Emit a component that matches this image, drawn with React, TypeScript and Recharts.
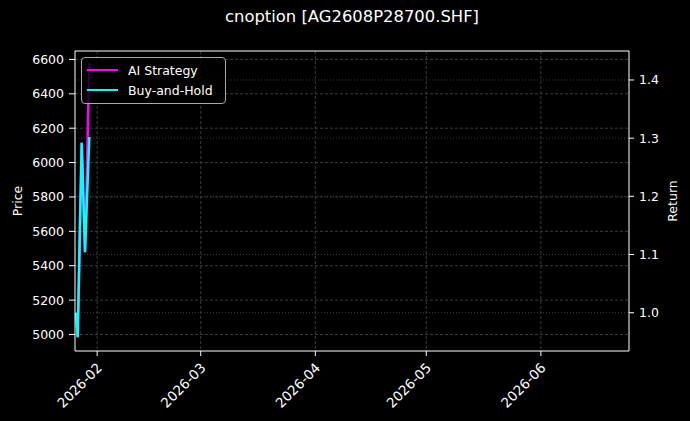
import React from "react";
import {
  LineChart,
  Line,
  XAxis,
  YAxis,
  CartesianGrid,
  Legend,
  ReferenceLine,
} from "recharts";

// timestamps of the few bars we have (UTC)
const times = [
  "2026-01-26T08:00:00Z",
  "2026-01-26T17:30:00Z",
  "2026-01-27T19:30:00Z",
  "2026-01-28T17:00:00Z",
  "2026-01-29T21:00:00Z",
];
const aiStrategy = [1.0, 0.958, 1.292, 1.104, 1.429];
const buyAndHold = [1.0, 0.958, 1.292, 1.104, 1.302];

const xTicks = ["2026-02-01", "2026-03-01", "2026-04-01", "2026-05-01", "2026-06-01"];
const xTickLabels = ["2026-02", "2026-03", "2026-04", "2026-05", "2026-06"];
const priceTicks = [5000, 5200, 5400, 5600, 5800, 6000, 6200, 6400, 6600];
const returnTicks = [1.0, 1.1, 1.2, 1.3, 1.4];

const xDomain = [Date.UTC(2026, 0, 26), Date.UTC(2026, 5, 24, 20)];
const priceDomain = [4904, 6649];
const returnDomain = [0.9342, 1.4498];

const FONT = "'DejaVu Sans', sans-serif";
const MAGENTA = "#ff00ff";
const CYAN = "#00ffff";

const data = times.map((t, i) => ({
  t: new Date(t).getTime(),
  ai: aiStrategy[i],
  bh: buyAndHold[i],
}));

const xTickValues = xTicks.map((d) => new Date(d + "T00:00:00Z").getTime());

function DateTick(props: any) {
  const { x, y, index } = props;
  const ax = x - 1;
  const ay = y + 4;
  return (
    <text
      x={ax}
      y={ay}
      transform={`rotate(-45, ${ax}, ${ay})`}
      textAnchor="end"
      dy="0.71em"
      fill="#ffffff"
      fontFamily={FONT}
      fontSize={13.5}
    >
      {xTickLabels[index]}
    </text>
  );
}

function LegendBox(props: any) {
  const items = props.payload || [];
  return (
    <div
      style={{
        width: 143,
        height: 43,
        border: "1px solid #aaa",
        borderRadius: 4,
        background: "rgba(0,0,0,0.8)",
        boxSizing: "content-box",
        fontFamily: FONT,
        fontSize: 12.5,
        color: "#fff",
        paddingTop: 2,
        textAlign: "left",
      }}
    >
      {items.map((it: any) => (
        <div
          key={it.value}
          style={{ display: "flex", alignItems: "center", height: 20 }}
        >
          <div
            style={{
              marginLeft: 5,
              width: 31,
              height: 2.5,
              background: it.color,
            }}
          />
          <span style={{ marginLeft: 10 }}>{it.value}</span>
        </div>
      ))}
    </div>
  );
}

export default function App() {
  return (
    <div
      style={{
        position: "fixed",
        left: 0,
        top: 0,
        width: 690,
        height: 421,
        background: "#000",
      }}
    >
      <div
        style={{
          position: "absolute",
          left: 75,
          width: 554,
          top: 7,
          textAlign: "center",
          color: "#fff",
          fontFamily: FONT,
          fontSize: 16.4,
        }}
      >
        cnoption [AG2608P28700.SHF]
      </div>
      <LineChart
        width={690}
        height={421}
        data={data}
        margin={{ top: 51, right: 11, bottom: 10, left: 15 }}
      >
        <CartesianGrid
          yAxisId="left"
          stroke="#3c3c3c"
          strokeDasharray="3 2"
          verticalValues={xTickValues}
          horizontalValues={priceTicks}
        />
        <CartesianGrid
          yAxisId="right"
          stroke="#3c3c3c"
          strokeDasharray="1 2"
          vertical={false}
          horizontalValues={returnTicks}
        />
        <XAxis
          dataKey="t"
          type="number"
          domain={xDomain}
          ticks={xTickValues}
          allowDataOverflow
          height={60}
          stroke="#fff"
          tickSize={5}
          tick={<DateTick />}
          interval={0}
        />
        <YAxis
          yAxisId="left"
          orientation="left"
          type="number"
          domain={priceDomain}
          ticks={priceTicks}
          allowDataOverflow
          width={60}
          stroke="#fff"
          tickSize={6}
          tickMargin={5}
          tick={{ fill: "#fff", fontFamily: FONT, fontSize: 12.5 }}
          label={{
            value: "Price",
            angle: -90,
            position: "insideLeft",
            offset: 3,
            textAnchor: "middle",
            fill: "#fff",
            fontFamily: FONT,
            fontSize: 12.5,
          }}
        />
        <YAxis
          yAxisId="right"
          orientation="right"
          type="number"
          domain={returnDomain}
          ticks={returnTicks}
          allowDataOverflow
          width={50}
          stroke="#fff"
          tickSize={5}
          tickMargin={5}
          tickFormatter={(v: number) => v.toFixed(1)}
          tick={{ fill: "#fff", fontFamily: FONT, fontSize: 12.5 }}
          label={{
            value: "Return",
            angle: -90,
            position: "insideRight",
            offset: 6,
            textAnchor: "middle",
            fill: "#fff",
            fontFamily: FONT,
            fontSize: 12.5,
          }}
        />
        <ReferenceLine yAxisId="right" y={returnDomain[1]} stroke="#fff" />
        <Legend
          content={<LegendBox />}
          layout="horizontal"
          verticalAlign="middle"
          align="center"
          wrapperStyle={{ left: 81, top: 57, width: 145 }}
        />
        <Line
          yAxisId="right"
          type="linear"
          dataKey="ai"
          name="AI Strategy"
          stroke={MAGENTA}
          strokeWidth={2.5}
          dot={false}
          isAnimationActive={false}
        />
        <Line
          yAxisId="right"
          type="linear"
          dataKey="bh"
          name="Buy-and-Hold"
          stroke={CYAN}
          strokeWidth={2.5}
          dot={false}
          isAnimationActive={false}
        />
      </LineChart>
    </div>
  );
}
